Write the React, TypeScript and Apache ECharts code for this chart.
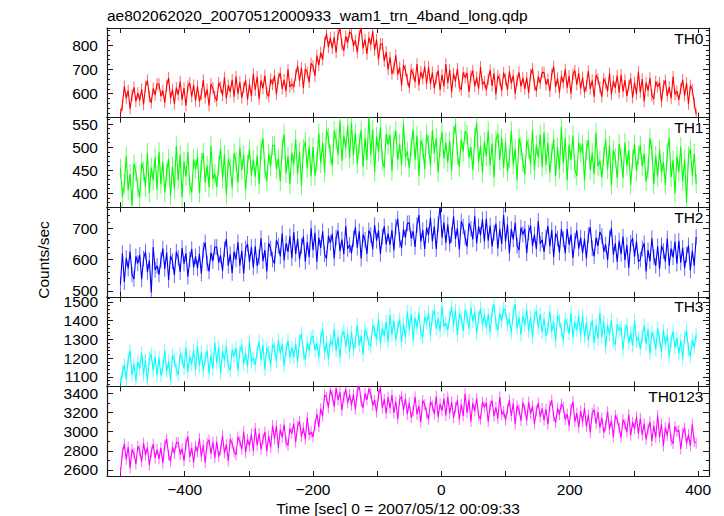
import React, { useEffect, useRef } from 'react';
import * as echarts from 'echarts';

const TITLE = 'ae802062020_20070512000933_wam1_trn_4band_long.qdp';
const X_LABEL = 'Time [sec] 0 = 2007/05/12 00:09:33';
const Y_LABEL = 'Counts/sec';
const PANEL_NAMES = ['TH0', 'TH1', 'TH2', 'TH3', 'TH0123'];
const COLORS = ['#ff0000', '#00ff00', '#0000ff', '#00ffff', '#ff00ff'];

// time grid of the light curves (sec)
const T_START = -500;
const T_STEP = 3;

const X_MIN = -521;
const X_MAX = 417;
const X_LABEL_STEP = 200;

const Y_MINS = [501, 370, 481, 1049, 2537];
const Y_MAXS = [871, 564, 767, 1527, 3473];
const Y_LABEL_STEPS = [100, 50, 100, 100, 200];
const Y_SPLITS = [4, 4, 3, 5, 5];
const Y_MINOR = [5, 5, 5, 5, 2];

// typical 1-sigma error bar of each band (counts/sec)
const ERRS = [24, 21, 25, 36, 57];

const th0 = [
  515, 553, 630, 580, 613, 538, 593, 626, 568, 603,
  572, 618, 555, 630, 655, 588, 562, 622, 595, 640,
  640, 590, 613, 563, 633, 665, 580, 617, 557, 625,
  595, 650, 575, 623, 550, 630, 645, 587, 635, 570,
  630, 568, 596, 656, 583, 618, 550, 640, 623, 588,
  570, 645, 627, 593, 667, 580, 635, 607, 657, 587,
  670, 600, 648, 582, 625, 655, 575, 638, 590, 682,
  615, 670, 578, 655, 622, 675, 602, 588, 660, 638,
  675, 597, 663, 685, 620, 657, 610, 700, 627, 640,
  627, 676, 715, 653, 707, 623, 702, 688, 646, 725,
  715, 673, 757, 717, 770, 740, 810, 848, 792, 830,
  787, 833, 770, 845, 870, 803, 777, 837, 810, 855,
  847, 797, 820, 770, 840, 872, 787, 824, 764, 832,
  802, 857, 780, 823, 740, 805, 805, 734, 772, 700,
  750, 682, 704, 758, 679, 708, 634, 718, 696, 657,
  625, 700, 682, 648, 722, 635, 690, 662, 712, 642,
  710, 640, 688, 622, 665, 695, 615, 678, 630, 722,
  643, 698, 606, 683, 650, 703, 630, 616, 688, 666,
  685, 607, 673, 695, 630, 667, 620, 710, 637, 650,
  614, 660, 697, 632, 684, 597, 674, 657, 612, 687,
  660, 615, 692, 642, 675, 600, 655, 688, 630, 665,
  620, 666, 603, 678, 703, 636, 610, 670, 643, 688,
  687, 637, 660, 610, 680, 712, 627, 664, 604, 672,
  645, 700, 625, 673, 600, 680, 695, 637, 685, 620,
  667, 605, 633, 693, 620, 655, 587, 677, 660, 625,
  587, 662, 644, 610, 684, 597, 652, 624, 674, 604,
  678, 608, 656, 590, 633, 663, 583, 646, 598, 690,
  605, 660, 568, 645, 612, 665, 592, 578, 650, 628,
  645, 567, 633, 655, 590, 627, 580, 670, 597, 610,
  574, 620, 657, 592, 644, 557, 634, 617, 560, 515,
];

const th1 = [
  454, 392, 420, 480, 407, 442, 374, 464, 447, 412,
  391, 466, 448, 414, 488, 401, 456, 428, 478, 408,
  490, 420, 468, 402, 445, 475, 395, 458, 410, 502,
  429, 484, 392, 469, 436, 489, 416, 402, 474, 452,
  478, 400, 466, 488, 423, 460, 413, 503, 430, 443,
  414, 460, 497, 432, 484, 397, 474, 457, 412, 487,
  468, 423, 500, 450, 483, 408, 463, 496, 438, 473,
  436, 482, 419, 494, 519, 452, 426, 486, 459, 504,
  503, 453, 476, 426, 496, 528, 443, 480, 420, 488,
  462, 517, 442, 490, 417, 497, 512, 454, 502, 437,
  500, 438, 468, 530, 465, 510, 445, 537, 520, 485,
  460, 535, 517, 483, 557, 470, 525, 497, 547, 477,
  552, 482, 530, 464, 507, 537, 457, 520, 472, 564,
  483, 538, 446, 523, 490, 543, 470, 456, 528, 506,
  526, 448, 514, 536, 471, 508, 461, 551, 478, 491,
  455, 501, 538, 473, 525, 438, 515, 498, 453, 528,
  505, 460, 537, 487, 520, 445, 500, 533, 475, 510,
  467, 513, 450, 525, 550, 483, 457, 517, 490, 535,
  527, 477, 500, 450, 520, 552, 467, 504, 444, 512,
  480, 535, 460, 508, 435, 515, 530, 472, 520, 455,
  509, 447, 475, 535, 462, 497, 429, 519, 502, 467,
  440, 515, 497, 463, 537, 450, 505, 477, 527, 457,
  532, 462, 510, 444, 487, 517, 437, 500, 452, 544,
  465, 520, 428, 505, 472, 525, 452, 438, 510, 488,
  506, 428, 494, 516, 451, 488, 441, 531, 458, 471,
  434, 480, 517, 452, 504, 417, 494, 477, 432, 507,
  478, 433, 510, 460, 493, 418, 473, 506, 448, 483,
  504, 459, 486, 426, 452, 519, 494, 419, 482, 436,
  495, 445, 468, 418, 488, 520, 435, 472, 400, 480,
  446, 501, 426, 474, 380, 481, 496, 438, 486, 421,
];

const th2 = [
  520, 620, 528, 605, 572, 625, 552, 538, 610, 588,
  615, 537, 603, 625, 560, 597, 495, 640, 567, 580,
  552, 598, 635, 570, 622, 535, 612, 595, 550, 625,
  605, 560, 637, 587, 620, 545, 600, 633, 575, 610,
  572, 618, 555, 630, 655, 588, 562, 622, 595, 640,
  640, 590, 613, 563, 633, 665, 580, 617, 557, 625,
  600, 655, 580, 628, 555, 635, 650, 592, 640, 575,
  642, 580, 608, 668, 595, 630, 562, 652, 635, 600,
  587, 662, 644, 610, 684, 597, 652, 624, 674, 604,
  688, 618, 666, 600, 643, 673, 593, 656, 608, 700,
  630, 685, 593, 670, 637, 690, 617, 603, 675, 653,
  682, 604, 670, 692, 627, 664, 617, 707, 634, 647,
  620, 666, 703, 638, 690, 603, 680, 663, 618, 693,
  678, 633, 710, 660, 693, 618, 673, 706, 648, 683,
  647, 693, 630, 705, 730, 663, 637, 697, 670, 715,
  717, 667, 690, 640, 710, 742, 657, 694, 634, 702,
  678, 733, 658, 706, 633, 713, 770, 670, 718, 653,
  712, 650, 678, 738, 665, 700, 632, 722, 705, 670,
  641, 716, 698, 664, 738, 651, 706, 678, 728, 658,
  730, 660, 708, 642, 685, 715, 635, 698, 650, 742,
  657, 712, 620, 697, 664, 717, 644, 630, 702, 680,
  698, 620, 686, 708, 643, 680, 633, 723, 650, 663,
  624, 670, 707, 642, 694, 607, 684, 667, 622, 697,
  665, 620, 697, 647, 680, 605, 660, 693, 635, 670,
  620, 666, 603, 678, 703, 636, 610, 670, 643, 688,
  675, 625, 648, 598, 668, 700, 615, 652, 592, 660,
  618, 673, 598, 646, 573, 653, 668, 610, 658, 593,
  600, 635, 652, 562, 630, 595, 668, 608, 580, 642,
  570, 645, 627, 593, 667, 580, 635, 607, 657, 587,
  660, 590, 638, 572, 615, 645, 565, 628, 580, 672,
];

const th3 = [
  1065, 1128, 1162, 1087, 1192, 1240, 1112, 1168, 1078, 1180,
  1145, 1228, 1115, 1187, 1078, 1198, 1220, 1133, 1205, 1108,
  1201, 1108, 1150, 1240, 1130, 1183, 1081, 1216, 1190, 1138,
  1110, 1223, 1196, 1145, 1256, 1126, 1208, 1166, 1241, 1136,
  1263, 1158, 1230, 1131, 1196, 1240, 1120, 1215, 1143, 1281,
  1176, 1258, 1120, 1236, 1186, 1266, 1156, 1135, 1243, 1210,
  1253, 1136, 1235, 1268, 1170, 1226, 1156, 1290, 1181, 1200,
  1165, 1234, 1290, 1192, 1270, 1140, 1255, 1230, 1162, 1274,
  1250, 1183, 1298, 1223, 1273, 1160, 1243, 1292, 1205, 1257,
  1206, 1275, 1180, 1293, 1330, 1230, 1191, 1281, 1240, 1308,
  1317, 1243, 1277, 1202, 1307, 1355, 1227, 1283, 1193, 1295,
  1270, 1353, 1240, 1312, 1203, 1323, 1345, 1258, 1330, 1233,
  1338, 1245, 1287, 1377, 1267, 1320, 1218, 1353, 1327, 1275,
  1262, 1375, 1348, 1297, 1408, 1278, 1360, 1318, 1393, 1288,
  1430, 1325, 1397, 1298, 1363, 1407, 1287, 1382, 1310, 1448,
  1353, 1435, 1297, 1413, 1363, 1443, 1333, 1312, 1420, 1387,
  1440, 1323, 1422, 1455, 1357, 1413, 1343, 1477, 1368, 1387,
  1348, 1417, 1473, 1375, 1453, 1323, 1438, 1413, 1345, 1457,
  1423, 1356, 1471, 1396, 1446, 1333, 1416, 1465, 1378, 1430,
  1363, 1432, 1337, 1450, 1487, 1387, 1348, 1438, 1397, 1465,
  1450, 1376, 1410, 1335, 1440, 1488, 1360, 1416, 1326, 1428,
  1375, 1458, 1345, 1417, 1308, 1428, 1450, 1363, 1435, 1338,
  1411, 1318, 1360, 1450, 1340, 1393, 1291, 1426, 1400, 1348,
  1294, 1407, 1380, 1329, 1440, 1310, 1392, 1350, 1425, 1320,
  1423, 1318, 1390, 1291, 1356, 1400, 1280, 1375, 1303, 1441,
  1313, 1395, 1257, 1373, 1323, 1403, 1293, 1272, 1380, 1347,
  1363, 1246, 1345, 1378, 1280, 1336, 1266, 1400, 1291, 1310,
  1248, 1317, 1373, 1275, 1353, 1223, 1338, 1313, 1245, 1357,
  1300, 1233, 1348, 1273, 1323, 1210, 1293, 1342, 1255, 1307,
  1223, 1292, 1197, 1310, 1347, 1247, 1208, 1298, 1257, 1325,
];

const th0123 = [
  2570, 2780, 2873, 2710, 2840, 2622, 2815, 2773, 2660, 2848,
  2800, 2687, 2880, 2755, 2838, 2650, 2788, 2870, 2725, 2813,
  2715, 2830, 2672, 2860, 2923, 2755, 2690, 2840, 2772, 2885,
  2888, 2762, 2820, 2695, 2870, 2950, 2737, 2830, 2680, 2850,
  2790, 2928, 2740, 2860, 2677, 2878, 2915, 2770, 2890, 2727,
  2895, 2740, 2810, 2960, 2777, 2865, 2695, 2920, 2878, 2790,
  2757, 2945, 2900, 2815, 3000, 2782, 2920, 2850, 2975, 2800,
  3035, 2860, 2980, 2815, 2923, 2998, 2797, 2955, 2835, 3065,
  2922, 3060, 2830, 3023, 2940, 3073, 2890, 2855, 3035, 2980,
  3085, 2890, 3055, 3110, 2947, 3040, 2922, 3148, 2965, 2997,
  2945, 3070, 3183, 3050, 3240, 3162, 3385, 3358, 3250, 3438,
  3375, 3262, 3455, 3330, 3413, 3225, 3363, 3445, 3300, 3388,
  3275, 3390, 3232, 3420, 3483, 3315, 3250, 3400, 3332, 3445,
  3398, 3272, 3330, 3205, 3380, 3460, 3247, 3340, 3190, 3360,
  3245, 3383, 3195, 3315, 3132, 3333, 3370, 3225, 3345, 3182,
  3300, 3145, 3215, 3365, 3182, 3270, 3100, 3325, 3283, 3195,
  3127, 3315, 3270, 3185, 3370, 3152, 3290, 3220, 3345, 3170,
  3365, 3190, 3310, 3145, 3253, 3328, 3127, 3285, 3165, 3395,
  3197, 3335, 3105, 3298, 3215, 3348, 3165, 3130, 3310, 3255,
  3300, 3105, 3270, 3325, 3162, 3255, 3137, 3363, 3180, 3212,
  3120, 3235, 3328, 3165, 3295, 3077, 3270, 3228, 3115, 3303,
  3230, 3117, 3310, 3185, 3268, 3080, 3218, 3300, 3155, 3243,
  3120, 3235, 3077, 3265, 3328, 3160, 3095, 3245, 3177, 3290,
  3253, 3127, 3185, 3060, 3235, 3315, 3102, 3195, 3045, 3215,
  3105, 3243, 3055, 3175, 2992, 3193, 3230, 3085, 3205, 3042,
  3145, 2990, 3060, 3210, 3027, 3115, 2945, 3170, 3128, 3040,
  2937, 3125, 3080, 2995, 3180, 2962, 3100, 3030, 3155, 2980,
  3140, 2965, 3085, 2920, 3028, 3103, 2902, 3060, 2940, 3170,
  2942, 3080, 2850, 3043, 2960, 3093, 2910, 2875, 3055, 3000,
  3015, 2820, 2985, 3040, 2877, 2970, 2852, 3078, 2895, 2880,
];

const SERIES_DATA = [th0, th1, th2, th3, th0123];

// layout
const W = 724;
const H = 516;
const PLOT_LEFT = 107;
const PLOT_WIDTH = 602;
const PLOT_TOP = 28;
const PANEL_H = 89.6;
const FONT = '"Liberation Sans", Arial, Helvetica, sans-serif';
const FS = 15.5;
const FRAME = '#1a1a1a';

const fmtMinus = (v: number) => (v < 0 ? '\u2212' + Math.abs(v) : String(v));

export default function App() {
  const ref = useRef<HTMLDivElement>(null);

  useEffect(() => {
    if (!ref.current) return;
    const chart = echarts.init(ref.current, undefined, { renderer: 'svg' });

    const grids: any[] = [];
    const xAxes: any[] = [];
    const yAxes: any[] = [];
    const series: any[] = [];
    const graphics: any[] = [];

    PANEL_NAMES.forEach((name, i) => {
      const top = PLOT_TOP + i * PANEL_H;
      grids.push({ left: PLOT_LEFT, width: PLOT_WIDTH, top, height: PANEL_H, containLabel: false, outerBoundsMode: 'none' });

      const isBottom = i === PANEL_NAMES.length - 1;
      const xBase = {
        gridIndex: i,
        type: 'value',
        min: X_MIN,
        max: X_MAX,
        splitNumber: 9,
        splitLine: { show: false },
        axisLine: { show: true, onZero: false, lineStyle: { color: FRAME, width: 1.2 } },
        axisTick: { show: true, inside: true, length: 5, lineStyle: { color: FRAME, width: 1 } },
      };
      xAxes.push({
        ...xBase,
        position: 'bottom',
        axisLabel: {
          show: isBottom,
          margin: 5,
          fontSize: FS,
          fontFamily: FONT,
          color: '#000',
          formatter: (v: number) =>
            Math.abs(v % X_LABEL_STEP) < 1e-6 && v >= -400 && v <= 400 ? fmtMinus(v) : '',
        },
      });
      xAxes.push({ ...xBase, position: 'top', axisLabel: { show: false } });

      const step = Y_LABEL_STEPS[i];
      const yBase = {
        gridIndex: i,
        type: 'value',
        min: Y_MINS[i],
        max: Y_MAXS[i],
        splitNumber: Y_SPLITS[i],
        scale: true,
        splitLine: { show: false },
        axisLine: { show: true, onZero: false, lineStyle: { color: FRAME, width: 1.2 } },
        axisTick: { show: true, inside: true, length: 6, lineStyle: { color: FRAME, width: 1 } },
        minorTick: { show: true, splitNumber: Y_MINOR[i], length: 3, lineStyle: { color: FRAME, width: 1 } },
      };
      yAxes.push({
        ...yBase,
        position: 'left',
        axisLabel: {
          show: true,
          margin: 9,
          fontSize: FS,
          fontFamily: FONT,
          color: '#000',
          formatter: (v: number) => (Math.abs(v % step) < 1e-6 ? String(v) : ''),
        },
      });
      yAxes.push({ ...yBase, position: 'right', axisLabel: { show: false } });

      const pts = SERIES_DATA[i].map((v, k) => [T_START + k * T_STEP, v]);
      const err = ERRS[i];
      const color = COLORS[i];

      // error bars
      series.push({
        type: 'custom',
        xAxisIndex: 2 * i,
        yAxisIndex: 2 * i,
        data: pts,
        silent: true,
        clip: true,
        z: 2,
        renderItem: (_params: any, api: any) => {
          const t = api.value(0);
          const v = api.value(1);
          const lo = api.coord([t, v - err]);
          const hi = api.coord([t, v + err]);
          return {
            type: 'line',
            shape: { x1: lo[0], y1: lo[1], x2: hi[0], y2: hi[1] },
            style: { stroke: color, lineWidth: 1, opacity: 0.6 },
          };
        },
      });
      // light curve
      series.push({
        type: 'line',
        xAxisIndex: 2 * i,
        yAxisIndex: 2 * i,
        data: pts,
        symbol: 'none',
        showSymbol: false,
        silent: true,
        clip: true,
        lineStyle: { color, width: 1.1 },
        z: 3,
      });

      graphics.push({
        type: 'text',
        x: 703.5,
        y: top + 10,
        z: 10,
        style: {
          text: name,
          fill: '#000',
          fontSize: FS,
          fontFamily: FONT,
          align: 'right',
          verticalAlign: 'middle',
        },
      });
    });

    graphics.push({
      type: 'text',
      x: PLOT_LEFT,
      y: 15.3,
      style: { text: TITLE, fill: '#000', fontSize: FS, fontFamily: FONT, align: 'left', verticalAlign: 'middle' },
    });
    graphics.push({
      type: 'text',
      x: 398,
      y: 508,
      style: { text: X_LABEL, fill: '#000', fontSize: FS, fontFamily: FONT, align: 'center', verticalAlign: 'middle' },
    });
    graphics.push({
      type: 'text',
      x: 43,
      y: 260,
      rotation: Math.PI / 2,
      style: { text: Y_LABEL, fill: '#000', fontSize: FS, fontFamily: FONT, align: 'center', verticalAlign: 'middle' },
    });

    chart.setOption({
      animation: false,
      backgroundColor: '#ffffff',
      grid: grids,
      xAxis: xAxes,
      yAxis: yAxes,
      series,
      graphic: graphics,
    });

    return () => chart.dispose();
  }, []);

  return (
    <div
      ref={ref}
      style={{ position: 'fixed', left: 0, top: 0, width: W, height: H, background: '#fff' }}
    />
  );
}
